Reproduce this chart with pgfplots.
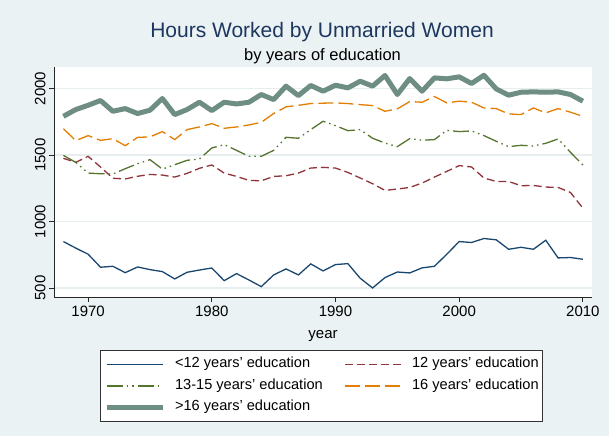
\documentclass[border=0pt]{standalone}
\usepackage{pgfplots}
\usepackage{pgfplotstable}
\pgfplotsset{compat=1.18}
\usepackage{fontspec}
\setmainfont{Liberation Sans}
\definecolor{bg}{HTML}{EAF2F3}
\definecolor{gridc}{HTML}{E6EEF0}
\definecolor{snavy}{HTML}{1A476F}
\definecolor{smaroon}{HTML}{90353B}
\definecolor{sgreen}{HTML}{55752F}
\definecolor{sorange}{HTML}{E37E00}
\definecolor{steal}{HTML}{6E8E84}
\definecolor{titleblue}{HTML}{1E3760}

\pgfplotstableread{
year lt12 e12 e1315 e16 gt16
1968 849 1475 1497 1698 1791
1969 800 1445 1445 1608 1842
1970 754 1490 1364 1646 1874
1971 656 1410 1359 1610 1910
1972 663 1325 1357 1623 1829
1973 615 1320 1397 1570 1849
1974 658 1340 1435 1633 1812
1975 638 1354 1465 1636 1837
1976 623 1349 1394 1676 1925
1977 568 1334 1427 1616 1804
1978 618 1362 1460 1691 1842
1979 635 1400 1470 1711 1897
1980 650 1425 1553 1736 1834
1981 555 1364 1578 1701 1897
1982 608 1339 1535 1711 1884
1983 560 1309 1490 1726 1897
1984 510 1306 1490 1746 1955
1985 598 1339 1535 1812 1917
1986 643 1344 1633 1862 2018
1987 598 1364 1626 1874 1947
1988 681 1402 1691 1887 2023
1989 628 1407 1754 1890 1980
1990 676 1402 1721 1892 2025
1991 683 1369 1683 1887 2005
1992 573 1327 1691 1879 2055
1993 500 1284 1626 1872 2018
1994 578 1234 1590 1829 2098
1995 620 1244 1563 1847 1955
1996 613 1256 1623 1902 2075
1997 651 1289 1611 1897 1980
1998 663 1334 1616 1940 2080
1999 754 1377 1686 1892 2073
2000 849 1420 1676 1905 2088
2001 842 1410 1681 1897 2038
2002 872 1327 1646 1854 2100
2003 862 1301 1603 1849 1997
2004 791 1301 1563 1809 1950
2005 806 1269 1573 1804 1972
2006 791 1271 1568 1854 1975
2007 859 1259 1588 1817 1972
2008 726 1256 1621 1849 1975
2009 729 1218 1520 1822 1955
2010 716 1100 1425 1791 1905
}\data

\begin{document}
\begin{tikzpicture}
\fill[bg] (0pt,0pt) rectangle (609pt,436pt);
\path[use as bounding box] (0pt,0pt) rectangle (609pt,436pt);
\node[anchor=base, font=\fontsize{21}{25}\selectfont, text=titleblue] at (322pt,398.3pt) {Hours Worked by Unmarried Women};
\node[anchor=base, font=\fontsize{16.5}{20}\selectfont] at (322.5pt,375.5pt) {by years of education};
\node[anchor=base, font=\fontsize{15}{18}\selectfont] at (323pt,97.8pt) {year};
\begin{axis}[
  at={(54pt,139pt)}, anchor=south west,
  width=538pt, height=230pt, scale only axis,
  xmin=1967.24, xmax=2010.74, ymin=432, ymax=2162,
  axis background/.style={fill=white},
  axis x line*=bottom, axis y line*=left,
  axis line style={-, black!85, line width=0.8pt},
  xtick={1970,1980,1990,2000,2010},
  ytick={500,1000,1500,2000},
  tick align=outside, major tick length=5pt,
  tick style={black!85, line width=0.8pt},
  ymajorgrids, grid style={gridc, line width=1.3pt},
  /pgf/number format/assume math mode=true,
  /pgf/number format/1000 sep={},
  ticklabel style={font=\fontsize{15}{18}\selectfont},
  yticklabel style={rotate=90, anchor=south, inner sep=0pt, text depth=0pt, yshift=3.5pt},
  xticklabel style={anchor=north, inner sep=0pt, text height=11pt, text depth=0pt, yshift=-3pt},
  legend columns=2,
  legend cell align=left,
  legend image code/.code={\draw[#1] (0pt,0pt) -- (56pt,0pt);},
  legend style={at={(0.497,-0.2304)}, anchor=north, draw=black!80, line width=0.6pt,
    fill=white, inner xsep=4pt, inner ysep=3.2pt,
    font=\fontsize{14.6}{17}\selectfont,
    nodes={inner xsep=0pt, inner ysep=3pt, text height=11pt, text depth=4.6pt},
    /tikz/every odd column/.style={column sep=10pt},
    /tikz/every even column/.style={column sep=22pt}},
]
\addplot[snavy, line width=1.3pt] table[x=year,y=lt12] {\data};
\addlegendentry{<12 years' education}
\addplot[smaroon, line width=1.3pt, dash pattern=on 8pt off 4pt] table[x=year,y=e12] {\data};
\addlegendentry{12 years' education}
\addplot[sgreen, line width=1.3pt, dash pattern=on 16pt off 4pt on 1.5pt off 4pt on 1.5pt off 4pt] table[x=year,y=e1315] {\data};
\addlegendentry{13-15 years' education}
\addplot[sorange, line width=1.3pt, dash pattern=on 15pt off 5pt] table[x=year,y=e16] {\data};
\addlegendentry{16 years' education}
\addplot[steal, line width=5pt, line join=round] table[x=year,y=gt16] {\data};
\addlegendentry{>16 years' education}
\end{axis}
\end{tikzpicture}
\end{document}
